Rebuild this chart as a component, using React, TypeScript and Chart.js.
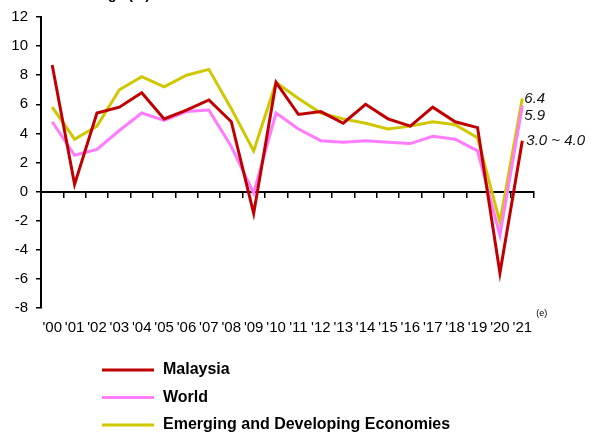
import React, { useEffect, useRef } from "react";
import { Chart, registerables } from "chart.js";

Chart.register(...registerables);

const years = ["'00","'01","'02","'03","'04","'05","'06","'07","'08","'09","'10","'11","'12","'13","'14","'15","'16","'17","'18","'19","'20","'21"];
const malaysia = [8.7, 0.5, 5.4, 5.8, 6.8, 5.0, 5.6, 6.3, 4.8, -1.5, 7.5, 5.3, 5.5, 4.7, 6.0, 5.0, 4.5, 5.8, 4.8, 4.4, -5.6, 3.5];
const world = [4.8, 2.5, 2.9, 4.2, 5.4, 4.9, 5.5, 5.6, 3.1, -0.1, 5.4, 4.3, 3.5, 3.4, 3.5, 3.4, 3.3, 3.8, 3.6, 2.8, -3.0, 5.9];
const emde = [5.8, 3.6, 4.5, 7.0, 7.9, 7.2, 8.0, 8.4, 5.7, 2.8, 7.5, 6.4, 5.4, 5.0, 4.7, 4.3, 4.5, 4.8, 4.6, 3.7, -2.1, 6.4];
const seriesNames = ["Malaysia", "World", "Emerging and Developing Economies"];
const endLabels = ["3.0 ~ 4.0", "5.9", "6.4"];
const estimateMark = "(e)";
const titleText = "Annual change (%)";

const FONT = "'Liberation Sans', Arial, sans-serif";

const overlayPlugin = {
  id: "overlay",
  afterDraw(chart: any) {
    const ctx = chart.ctx;
    const x = chart.scales.x;
    const area = chart.chartArea;
    ctx.save();
    // partially visible title (only descenders show)
    ctx.font = `bold 14px ${FONT}`;
    ctx.fillStyle = "#000";
    ctx.textAlign = "right";
    ctx.textBaseline = "alphabetic";
    ctx.fillText(titleText, 150, -1);

    // end labels
    const last = years.length - 1;
    const offsets = [0, 10, 0];
    ctx.font = `italic 15px ${FONT}`;
    ctx.textAlign = "left";
    ctx.textBaseline = "middle";
    chart.data.datasets.forEach((ds: any, i: number) => {
      const meta = chart.getDatasetMeta(i);
      const pt = meta.data[last];
      ctx.fillStyle = "#111";
      ctx.fillText(endLabels[i], pt.x + (i === 0 ? 4 : 2), pt.y + offsets[i]);
    });

    // (e) mark
    ctx.font = `9px ${FONT}`;
    ctx.fillStyle = "#000";
    ctx.textAlign = "left";
    ctx.fillText(estimateMark, x.getPixelForValue(last) + 14, area.bottom + 6);

    // legend
    ctx.lineWidth = 3;
    chart.data.datasets.forEach((ds: any, i: number) => {
      const ly = 370 + i * 27.5;
      ctx.strokeStyle = ds.borderColor;
      ctx.beginPath();
      ctx.moveTo(102, ly);
      ctx.lineTo(154, ly);
      ctx.stroke();
      ctx.font = `bold 16px ${FONT}`;
      ctx.fillStyle = "#000";
      ctx.textAlign = "left";
      ctx.textBaseline = "middle";
      ctx.fillText(ds.label, 163, ly);
    });
    ctx.restore();
  },
};

export default function App() {
  const ref = useRef<HTMLCanvasElement | null>(null);
  useEffect(() => {
    if (!ref.current) return;
    const chart = new Chart(ref.current, {
      type: "line",
      data: {
        labels: years,
        datasets: [
          { label: seriesNames[0], data: malaysia, borderColor: "#c00000", borderWidth: 3, pointRadius: 0, tension: 0, fill: false },
          { label: seriesNames[1], data: world, borderColor: "#ff7cff", borderWidth: 3, pointRadius: 0, tension: 0, fill: false },
          { label: seriesNames[2], data: emde, borderColor: "#cfc800", borderWidth: 3, pointRadius: 0, tension: 0, fill: false },
        ],
      },
      options: {
        animation: false,
        responsive: false,
        layout: { padding: { top: 13, left: 0, right: 58.5, bottom: 96 } },
        plugins: { legend: { display: false }, tooltip: { enabled: false }, title: { display: false } },
        scales: {
          x: {
            type: "category",
            offset: true,
            grid: { display: false, drawTicks: false },
            border: { display: false },
            ticks: {
              autoSkip: false,
              maxRotation: 0,
              minRotation: 0,
              padding: 11,
              color: "#000",
              font: { family: FONT, size: 15 },
            },
            afterFit: (s: any) => { s.height = 28; },
          },
          x2: {
            type: "category",
            labels: years,
            position: { y: 0 } as any,
            offset: true,
            grid: { display: true, drawOnChartArea: false, drawTicks: true, tickLength: 5, color: "#000", lineWidth: 1.5, offset: true },
            border: { display: true, color: "#000", width: 2 },
            ticks: { display: false },
          },
          y: {
            min: -8,
            max: 12,
            ticks: { stepSize: 2, padding: 8, color: "#000", font: { family: FONT, size: 15 } },
            grid: { display: true, drawOnChartArea: false, drawTicks: true, tickLength: 5, color: "#000", lineWidth: 1.5 },
            border: { display: true, color: "#000", width: 2 },
            afterFit: (s: any) => { s.width = 41; },
          },
        },
      },
      plugins: [overlayPlugin],
    });
    return () => chart.destroy();
  }, []);
  return (
    <div style={{ position: "fixed", left: 0, top: 0, width: 592, height: 432, background: "#fff" }}>
      <canvas ref={ref} width={592} height={432} style={{ display: "block" }} />
    </div>
  );
}
